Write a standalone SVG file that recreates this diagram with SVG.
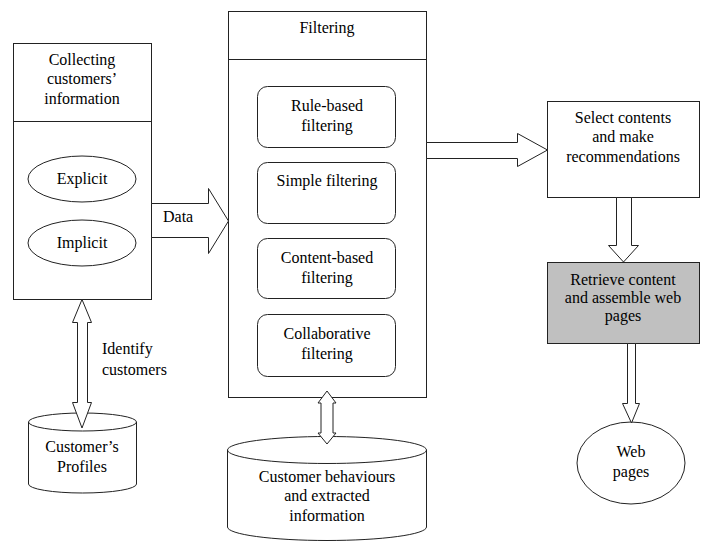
<svg xmlns="http://www.w3.org/2000/svg" width="704" height="541" viewBox="0 0 704 541">
<style>
.s{fill:#fff;stroke:#222;stroke-width:1}
.g{fill:#c0c0c0;stroke:#222;stroke-width:1}
.ln{fill:none;stroke:#222;stroke-width:1}
text{font-size:16px;fill:#000;text-anchor:middle}
.l{text-anchor:start}
</style>
<rect width="704" height="541" fill="#fff"/>
<g font-family="Liberation Serif, Times New Roman, Tinos, Noto Serif, DejaVu Serif, serif">
<g id="collect">
<rect class="s" x="13.5" y="43.5" width="138" height="256"/>
<line class="ln" x1="13.5" y1="121.5" x2="151.5" y2="121.5"/>
<text x="82" y="65">Collecting</text>
<text x="82" y="84">customers’</text>
<text x="82" y="104">information</text>
</g>
<g id="explicit">
<ellipse class="s" cx="82" cy="179" rx="54" ry="23"/>
<text x="82" y="184">Explicit</text>
</g>
<g id="implicit">
<ellipse class="s" cx="82" cy="243" rx="54" ry="23"/>
<text x="82" y="248">Implicit</text>
</g>
<g id="filtering">
<rect class="s" x="228.5" y="11.5" width="198" height="386"/>
<line class="ln" x1="228.5" y1="59.5" x2="426.5" y2="59.5"/>
<text x="327" y="33">Filtering</text>
</g>
<g id="rule">
<rect class="s" x="257.5" y="86.5" width="138" height="61" rx="10"/>
<text x="327" y="111">Rule-based</text>
<text x="327" y="131">filtering</text>
</g>
<g id="simple">
<rect class="s" x="257.5" y="162.5" width="138" height="61" rx="10"/>
<text x="327" y="186">Simple filtering</text>
</g>
<g id="content">
<rect class="s" x="257.5" y="238.5" width="138" height="60" rx="10"/>
<text x="327" y="263">Content-based</text>
<text x="327" y="283">filtering</text>
</g>
<g id="collab">
<rect class="s" x="257.5" y="314.5" width="138" height="62" rx="10"/>
<text x="327" y="339">Collaborative</text>
<text x="327" y="359">filtering</text>
</g>
<g id="behaviours">
<path class="s" d="M227.5,450 L227.5,527 A99.5,13.5 0 0 0 426.5,527 L426.5,450 A99.5,13.5 0 0 0 227.5,450 Z"/>
<path class="ln" d="M227.5,450 A99.5,13.5 0 0 0 426.5,450"/>
<text x="327" y="482">Customer behaviours</text>
<text x="327" y="501">and extracted</text>
<text x="327" y="521">information</text>
</g>
<g id="profiles">
<path class="s" d="M28.5,422 L28.5,484 A54,9 0 0 0 136.5,484 L136.5,422 A54,9 0 0 0 28.5,422 Z"/>
<path class="ln" d="M28.5,422 A54,9 0 0 0 136.5,422"/>
<text x="82" y="452">Customer’s</text>
<text x="82" y="472">Profiles</text>
</g>
<g id="select">
<rect class="s" x="547.5" y="101.5" width="152" height="96"/>
<text x="623" y="123">Select contents</text>
<text x="623" y="142">and make</text>
<text x="623" y="162">recommendations</text>
</g>
<g id="retrieve">
<rect class="g" x="547.5" y="262.5" width="152" height="81"/>
<text x="623" y="285">Retrieve content</text>
<text x="623" y="303">and assemble web</text>
<text x="623" y="321">pages</text>
</g>
<g id="webpages">
<ellipse class="s" cx="631" cy="463" rx="54" ry="41"/>
<text x="631" y="457">Web</text>
<text x="631" y="477">pages</text>
</g>
<g id="connectors">
<path class="s" d="M151.5,203.5 L208.5,203.5 L208.5,188.5 L228.5,221 L208.5,253.5 L208.5,237.5 L151.5,237.5 Z"/>
<text class="l" x="163" y="222">Data</text>
<path class="s" d="M426.5,142.5 L517.5,142.5 L517.5,133.5 L547.5,150 L517.5,166.5 L517.5,158.5 L426.5,158.5 Z"/>
<path class="s" d="M616.5,197.5 L631.5,197.5 L631.5,245.5 L638.5,245.5 L623.5,262 L608.5,245.5 L616.5,245.5 Z"/>
<path class="s" d="M627.5,343.5 L635.5,343.5 L635.5,403.5 L639.5,403.5 L631.5,423 L622.5,403.5 L627.5,403.5 Z"/>
<path class="s" d="M82,299.5 L91.5,322.5 L87.5,322.5 L87.5,402.5 L91.5,402.5 L82,428 L72.5,402.5 L77.5,402.5 L77.5,322.5 L72.5,322.5 Z"/>
<text class="l" x="102" y="354">Identify</text>
<text class="l" x="102" y="375">customers</text>
<path class="s" d="M327,391 L336,403 L333,403 L333,433 L336,433 L327,444 L318,433 L321,433 L321,403 L318,403 Z"/>
</g>
</g>
</svg>
